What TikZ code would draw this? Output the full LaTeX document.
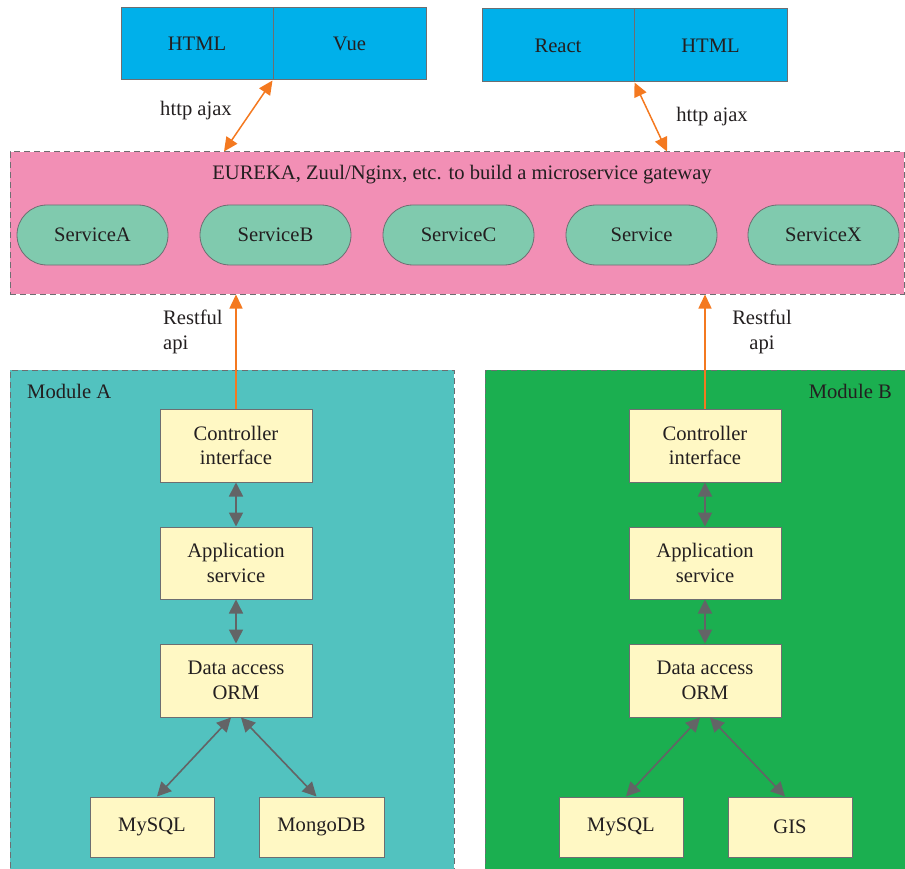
\documentclass[tikz,border=0pt]{standalone}
\usepackage{fontspec}
\setmainfont{Liberation Serif}
\usetikzlibrary{arrows.meta,shapes.misc}
\definecolor{blueC}{HTML}{00B0EA}
\definecolor{pinkC}{HTML}{F28FB5}
\definecolor{mintC}{HTML}{80CAAE}
\definecolor{tealC}{HTML}{52C2BF}
\definecolor{greenC}{HTML}{1BAF50}
\definecolor{yellowC}{HTML}{FFF8C4}
\definecolor{borderC}{HTML}{6D6E71}
\definecolor{orangeC}{HTML}{F47920}
\definecolor{arrowC}{HTML}{636466}
\definecolor{textC}{HTML}{231F20}
\tikzset{
  every node/.style={text=textC, font=\fontsize{20.6}{24.5}\selectfont},
  webbox/.style={draw=borderC, line width=1pt, fill=blueC, minimum height=72, inner sep=0pt},
  gwbox/.style={draw=borderC, line width=1pt, dash pattern=on 6pt off 4pt, fill=pinkC, inner sep=0pt},
  modbox/.style={draw=borderC, line width=1pt, dash pattern=on 6pt off 4pt, inner sep=0pt},
  pill/.style={rounded rectangle, draw=borderC, line width=0.8pt, fill=mintC, minimum width=151, minimum height=60, inner sep=0pt},
  ybox/.style={draw=borderC, line width=1pt, fill=yellowC, minimum width=152, minimum height=73, align=center, inner sep=0pt},
  dbbox/.style={draw=borderC, line width=1pt, fill=yellowC, minimum width=124, minimum height=60, inner sep=0pt},
  oarr/.style={draw=orangeC, line width=1.5pt, {Triangle[length=14pt,width=13pt]}-{Triangle[length=14pt,width=13pt]}},
  oup/.style={draw=orangeC, line width=1.5pt, -{Triangle[length=14pt,width=13pt]}},
  garr/.style={draw=arrowC, line width=1.6pt, {Triangle[length=14pt,width=14pt]}-{Triangle[length=14pt,width=14pt]}},
  lbl/.style={inner sep=0pt},
}
\begin{document}
\begin{tikzpicture}[x=1pt,y=-1pt]
\useasboundingbox (0,0) rectangle (905,869);
% modules
\node[modbox, fill=tealC, minimum width=444, minimum height=500] (modA) at (232,620) {};
\node[modbox, fill=greenC, minimum width=421, minimum height=500] (modB) at (695.5,620) {};
\node[lbl, anchor=west] (labA) at (27,391) {Module A};
\node[lbl, anchor=east] (labB) at (892,391) {Module B};
% gateway
\node[gwbox, minimum width=894, minimum height=142] (gw) at (457,223) {};
\node[lbl] (gwt) at (462,175) {EUREKA, Zuul/Nginx, etc. to build a microservice gateway};
\node[pill] (sA) at (92.5,235) {ServiceA};
\node[pill] (sB) at (275.5,235) {ServiceB};
\node[pill] (sC) at (458.5,235) {ServiceC};
\node[pill] (sD) at (641.5,235) {Service};
\node[pill] (sX) at (823.5,235) {ServiceX};
% web boxes
\node[webbox, minimum width=152] (html1) at (197,44) {HTML};
\node[webbox, minimum width=153] (vue) at (349.5,44) {Vue};
\node[webbox, minimum width=152, minimum height=73] (react) at (558,45.5) {React};
\node[webbox, minimum width=153, minimum height=73] (html2) at (710.5,45.5) {HTML};
\draw[oarr] (vue.south west) -- (gw.north -| 224,0);
\draw[oarr] (react.south east) -- (gw.north -| 667,0);
\node[lbl] (ha1) at (196,111) {http ajax};
\node[lbl] (ha2) at (712,117) {http ajax};
% module A boxes
\node[ybox] (ctrlA) at (236,445.5) {Controller\\interface};
\node[ybox, minimum height=72] (appA) at (236,563) {Application\\service};
\node[ybox] (dataA) at (236,680.5) {Data access\\ORM};
\node[dbbox] (mysqlA) at (152,827) {MySQL};
\node[dbbox, minimum width=125] (mongo) at (321.5,827) {MongoDB};
% module B boxes
\node[ybox] (ctrlB) at (705,445.5) {Controller\\interface};
\node[ybox, minimum height=72] (appB) at (705,563) {Application\\service};
\node[ybox] (dataB) at (705,680.5) {Data access\\ORM};
\node[dbbox] (mysqlB) at (621,827) {MySQL};
\node[dbbox] (gis) at (790,827) {GIS};
% restful
\draw[oup] (ctrlA.north) -- (gw.south -| ctrlA.north);
\draw[oup] (ctrlB.north) -- (gw.south -| ctrlB.north);
\node[lbl, align=left, anchor=west] (rA) at (163,332) {Restful\\api};
\node[lbl, align=center] (rB) at (762,332) {Restful\\api};
% gray arrows
\draw[garr] (ctrlA.south) -- (appA.north);
\draw[garr] (appA.south) -- (dataA.north);
\draw[garr] ([xshift=-5pt]dataA.south) -- ([xshift=5pt]mysqlA.north);
\draw[garr] ([xshift=5pt]dataA.south) -- ([xshift=-5pt]mongo.north);
\draw[garr] (ctrlB.south) -- (appB.north);
\draw[garr] (appB.south) -- (dataB.north);
\draw[garr] ([xshift=-5pt]dataB.south) -- ([xshift=5pt]mysqlB.north);
\draw[garr] ([xshift=5pt]dataB.south) -- ([xshift=-5pt]gis.north);
\end{tikzpicture}
\end{document}
